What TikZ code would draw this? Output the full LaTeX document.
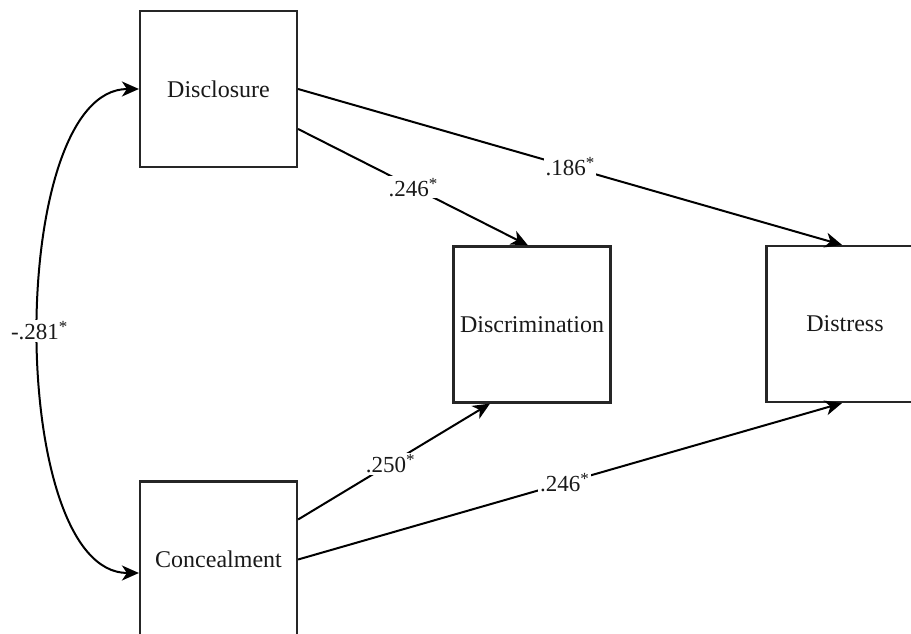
\documentclass[tikz,border=0pt]{standalone}
\usepackage{fontspec}
\setmainfont{Liberation Serif}
\usetikzlibrary{arrows.meta}
\newcommand{\sigmark}{\raisebox{7pt}{\fontsize{17}{17}\selectfont *}}
\tikzset{
  varbox/.style={draw=black!85, line width=2.2pt, minimum width=157pt, minimum height=156pt, inner sep=0pt, font=\fontsize{24}{28}\selectfont, text=black!90},
  path/.style={line width=2pt, -{Stealth[length=17pt,width=15pt,inset=5pt]}},
  coef/.style={fill=white, inner sep=2pt, font=\fontsize{23}{27}\selectfont, text=black!90}
}
\begin{document}
\begin{tikzpicture}[x=1pt,y=-1pt]
\useasboundingbox (0,0) rectangle (911,634);
\clip (0,0) rectangle (911,634);
\node[varbox] (dis) at (218.5,89) {Disclosure};
\node[varbox] (con) at (218.5,559.5) {Concealment};
\node[varbox] (disc) at (532,324.5) {Discrimination};
\node[varbox] (dst) at (845,324) {Distress};
\coordinate (d2) at ([yshift=-40pt]dis.east);
\coordinate (c2) at ([yshift=40pt]con.east);
\coordinate (cw) at ([yshift=-13.5pt]con.west);
\coordinate (discN) at ([xshift=-4pt]disc.north);
\coordinate (discS) at ([xshift=-42pt]disc.south);
\coordinate (dstN) at ([xshift=-3pt]dst.north);
\coordinate (dstS) at ([xshift=-3pt]dst.south);
\draw[path] (dis.east) -- node[coef] {.186\sigmark} (dstN);
\draw[path] (d2) -- node[coef] {.246\sigmark} (discN);
\draw[path] (c2) -- node[coef, pos=0.48] {.250\sigmark} (discS);
\draw[path] (con.east) -- node[coef, pos=0.49] {.246\sigmark} (dstS);
\draw[line width=2pt, {Stealth[length=17pt,width=15pt,inset=5pt]}-{Stealth[length=17pt,width=15pt,inset=5pt]}]
  (dis.west) .. controls (6,89) and (6,573) .. node[coef, pos=0.5] {-.281\sigmark} (cw);
\end{tikzpicture}
\end{document}
